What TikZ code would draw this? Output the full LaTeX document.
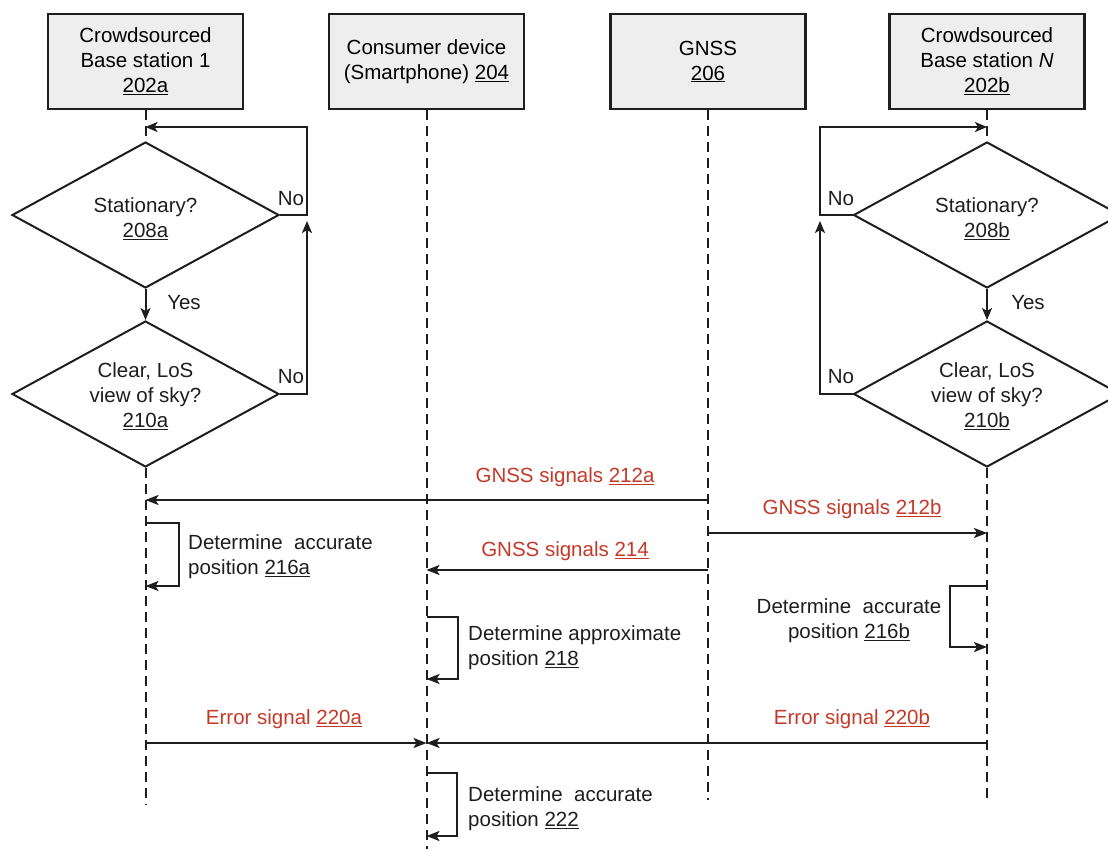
\documentclass[tikz,border=0pt]{standalone}
\usepackage{fontspec}
\setmainfont{Liberation Sans}
\usetikzlibrary{shapes.geometric,arrows.meta}
\definecolor{sigred}{RGB}{196,58,40}
\definecolor{boxgray}{RGB}{238,238,238}
\definecolor{ink}{RGB}{30,30,30}
\newcommand{\refnum}[1]{\underline{#1}}
\begin{document}
\begin{tikzpicture}[x=1pt,y=-1pt,
  font=\fontsize{20.5}{25}\selectfont,
  every node/.style={inner sep=0pt},
  actor/.style={draw=ink,line width=2.2pt,fill=boxgray,minimum width=195pt,minimum height=95pt,align=center},
  decision/.style={draw=ink,line width=2pt,diamond,minimum width=267pt,minimum height=146pt,align=center},
  lifeline/.style={draw=ink,line width=2pt,dash pattern=on 10pt off 6pt},
  flow/.style={draw=ink,line width=2pt,-{Stealth[length=12pt,width=10pt,inset=3pt]}},
  msg/.style={draw=ink,line width=2pt,-{Stealth[length=13pt,width=10pt,inset=3pt]}},
  siglabel/.style={text=sigred,align=center},
  lbl/.style={text=ink}
]
\clip (0,0) rectangle (1108,849);
\fill[white] (0,0) rectangle (1108,849);

% actors
\node[actor] (bs1) at (145.5,61.5) {Crowdsourced\\Base station 1\\\refnum{202a}};
\node[actor] (cd) at (426.5,61.5) {Consumer device\\(Smartphone) \refnum{204}};
\node[actor] (gnss) at (708,61.5) {GNSS\\\refnum{206}};
\node[actor] (bsn) at (987,61.5) {Crowdsourced\\Base station \textit{N}\\\refnum{202b}};

% decisions
\node[decision] (st1) at (145.5,215) {};
\node[lbl,align=center] (st1t) at (145.5,219) {Stationary?\\\refnum{208a}};
\node[decision] (cl1) at (145.5,394) {};
\node[lbl,align=center] (cl1t) at (145.5,396) {Clear, LoS\\view of sky?\\\refnum{210a}};
\node[decision] (st2) at (987,215) {};
\node[lbl,align=center] (st2t) at (987,219) {Stationary?\\\refnum{208b}};
\node[decision] (cl2) at (987,394) {};
\node[lbl,align=center] (cl2t) at (987,396) {Clear, LoS\\view of sky?\\\refnum{210b}};

% lifeline end points
\coordinate (e1) at (145.5,805);
\coordinate (e2) at (426.5,849);
\coordinate (e3) at (708,800);
\coordinate (e4) at (987,800);

% lifelines
\draw[lifeline] (bs1.south) -- (st1.north);
\draw[lifeline] (cl1.south) -- (e1);
\draw[lifeline] (cd.south) -- (e2);
\draw[lifeline] (gnss.south) -- (e3);
\draw[lifeline] (bsn.south) -- (st2.north);
\draw[lifeline] (cl2.south) -- (e4);

% yes arrows
\draw[flow] (st1.south) -- (cl1.north);
\node[lbl] (yes1) at (184,303) {Yes};
\draw[flow] (st2.south) -- (cl2.north);
\node[lbl] (yes2) at (1028,303) {Yes};

% loops left
\coordinate (top1) at (145.5,127);
\draw[flow] (st1.east) -- (307,215) -- (307,127) -- (top1);
\draw[flow] (cl1.east) -- (307,394) -- (307,221);
\node[lbl] (no1) at (291,199) {No};
\node[lbl] (no2) at (291,377) {No};

% loops right
\coordinate (top2) at (987,127);
\draw[flow] (st2.west) -- (820,215) -- (820,127) -- (top2);
\draw[flow] (cl2.west) -- (820,394) -- (820,221);
\node[lbl] (no3) at (841,199) {No};
\node[lbl] (no4) at (841,377) {No};

% messages
\coordinate (g212a) at (708,500);
\coordinate (b212a) at (145.5,500);
\draw[msg] (g212a) -- (b212a);
\node[siglabel] (l212a) at (565,477) {GNSS signals \refnum{212a}};

\coordinate (g212b) at (708,533);
\coordinate (b212b) at (987,533);
\draw[msg] (g212b) -- (b212b);
\node[siglabel] (l212b) at (852,509) {GNSS signals \refnum{212b}};

\coordinate (g214) at (708,570);
\coordinate (c214) at (426.5,570);
\draw[msg] (g214) -- (c214);
\node[siglabel] (l214) at (565,551) {GNSS signals \refnum{214}};

\coordinate (b220a) at (145.5,743);
\coordinate (c220a) at (426.5,743);
\draw[msg] (b220a) -- (c220a);
\node[siglabel] (l220a) at (284,719) {Error signal \refnum{220a}};

\coordinate (b220b) at (987,743);
\coordinate (c220b) at (426.5,743);
\draw[msg] (b220b) -- (c220b);
\node[siglabel] (l220b) at (852,719) {Error signal \refnum{220b}};

% self loops
\coordinate (s216a) at (145.5,523);
\coordinate (t216a) at (145.5,586);
\draw[msg] (s216a) -- (179,523) -- (179,586) -- (t216a);
\node[lbl,anchor=west,align=left] (p216a) at (188,557) {Determine\ \ accurate\\position \refnum{216a}};

\coordinate (s218) at (426.5,617);
\coordinate (t218) at (426.5,679);
\draw[msg] (s218) -- (458,617) -- (458,679) -- (t218);
\node[lbl,anchor=west,align=left] (p218) at (468,648) {Determine approximate\\position \refnum{218}};

\coordinate (s222) at (426.5,773);
\coordinate (t222) at (426.5,836);
\draw[msg] (s222) -- (457,773) -- (457,836) -- (t222);
\node[lbl,anchor=west,align=left] (p222) at (468,809) {Determine\ \ accurate\\position \refnum{222}};

\coordinate (s216b) at (987,586);
\coordinate (t216b) at (987,647);
\draw[msg] (s216b) -- (950,586) -- (950,647) -- (t216b);
\node[lbl,align=center] (p216b) at (849,621) {Determine\ \ accurate\\position \refnum{216b}};
\end{tikzpicture}
\end{document}
